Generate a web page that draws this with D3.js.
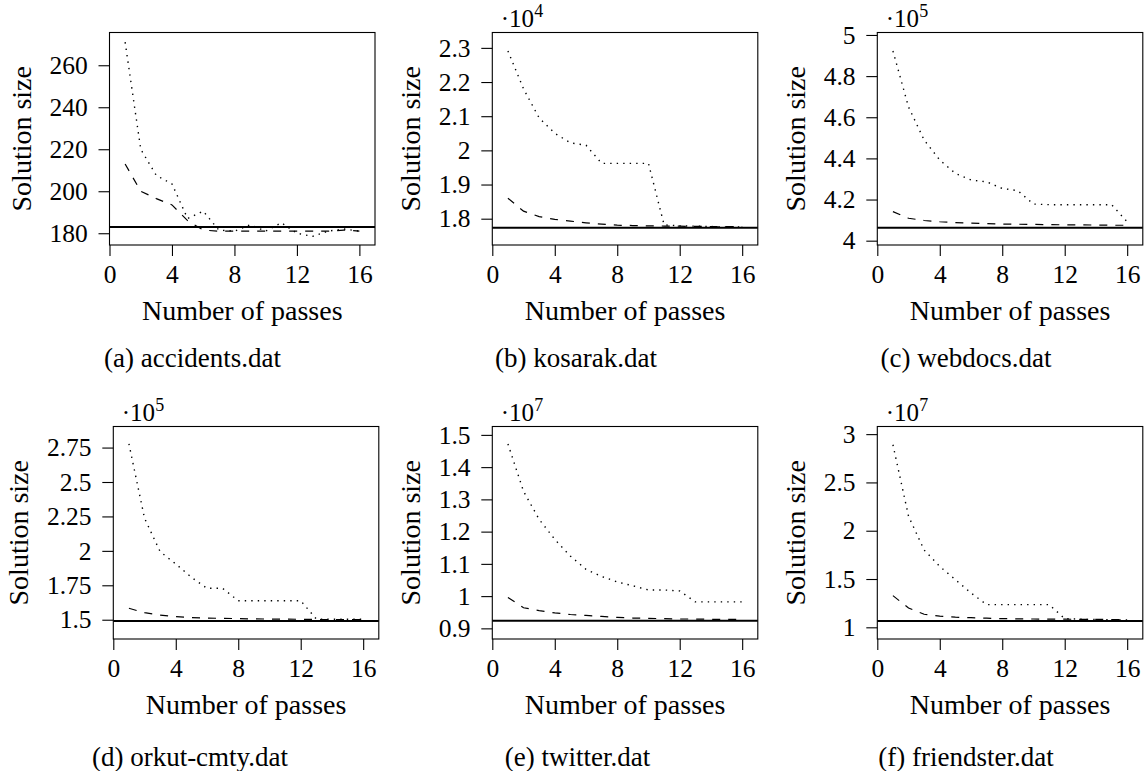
<!DOCTYPE html>
<html lang="en">
<head>
<meta charset="UTF-8">
<title>Solution size vs number of passes</title>
<script src="https://d3js.org/d3.v7.min.js"></script>
<style>
  body { margin: 0; background: #fff; }
</style>
</head>
<body>
<svg id="chart" width="1148" height="771"></svg>
<script>
// Shared x values and ticks
const passes = [1, 2, 3, 4, 5, 6, 7, 8, 9, 10, 11, 12, 13, 14, 15, 16];
const xTicks = [0, 4, 8, 12, 16];

// (a) accidents.dat
const accidentsDotted = [271, 220, 207.5, 203.5, 187, 190.5, 181.5, 181, 184, 181, 185, 180, 178.5, 181, 182, 181];
const accidentsDashed = [213, 200, 196.5, 193.5, 186, 181.5, 181, 181, 181, 181, 181, 181, 181, 181, 181.5, 181];
const accidentsOptimum = 183;
const accidentsTicks = [180, 200, 220, 240, 260];
const accidentsTickLabels = ["180", "200", "220", "240", "260"];

// (b) kosarak.dat
const kosarakDotted = [22910, 21800, 20950, 20500, 20220, 20150, 19620, 19620, 19620, 19620, 17820, 17790, 17780, 17770, 17760, 17760];
const kosarakDashed = [18600, 18220, 18060, 17980, 17930, 17880, 17840, 17810, 17800, 17790, 17785, 17780, 17775, 17770, 17770, 17765];
const kosarakOptimum = 17737;
const kosarakTicks = [18000, 19000, 20000, 21000, 22000, 23000];
const kosarakTickLabels = ["1.8", "1.9", "2", "2.1", "2.2", "2.3"];

// (c) webdocs.dat
const webdocsDotted = [492200, 465000, 448900, 439200, 432700, 429500, 428600, 425400, 424300, 417800, 417500, 417500, 417500, 417500, 417500, 409200];
const webdocsDashed = [414100, 410900, 409800, 409200, 408800, 408500, 408300, 408100, 408000, 407900, 407800, 407700, 407700, 407600, 407500, 407500];
const webdocsOptimum = 406300;
const webdocsTicks = [400000, 420000, 440000, 460000, 480000, 500000];
const webdocsTickLabels = ["4", "4.2", "4.4", "4.6", "4.8", "5"];

// (d) orkut-cmty.dat
const orkutDotted = [277700, 223700, 199400, 190500, 180800, 172800, 172800, 163800, 163800, 163800, 163800, 163800, 150500, 150300, 150300, 150300];
const orkutDashed = [158300, 155100, 153400, 152200, 151500, 151200, 151000, 150800, 150600, 150500, 150400, 150300, 150200, 150100, 150000, 150000];
const orkutOptimum = 149100;
const orkutTicks = [150000, 175000, 200000, 225000, 250000, 275000];
const orkutTickLabels = ["1.5", "1.75", "2", "2.25", "2.5", "2.75"];

// (e) twitter.dat
const twitterDotted = [14720000, 13250000, 12380000, 11760000, 11240000, 10830000, 10610000, 10440000, 10320000, 10190000, 10190000, 10160000, 9820000, 9820000, 9820000, 9820000];
const twitterDashed = [9960000, 9640000, 9550000, 9480000, 9430000, 9400000, 9370000, 9340000, 9320000, 9310000, 9300000, 9290000, 9290000, 9280000, 9280000, 9280000];
const twitterOptimum = 9238000;
const twitterTicks = [9000000, 10000000, 11000000, 12000000, 13000000, 14000000, 15000000];
const twitterTickLabels = ["0.9", "1", "1.1", "1.2", "1.3", "1.4", "1.5"];

// (f) friendster.dat
const friendsterDotted = [28900000, 21500000, 18000000, 16300000, 14930000, 13560000, 12350000, 12350000, 12350000, 12350000, 12350000, 10900000, 10850000, 10800000, 10800000, 10750000];
const friendsterDashed = [13280000, 12000000, 11350000, 11150000, 11050000, 11000000, 10950000, 10900000, 10880000, 10860000, 10850000, 10840000, 10830000, 10820000, 10810000, 10800000];
const friendsterOptimum = 10650000;
const friendsterTicks = [10000000, 15000000, 20000000, 25000000, 30000000];
const friendsterTickLabels = ["1", "1.5", "2", "2.5", "3"];

const FONT = '"Liberation Serif"';

// panel layout
const W = 265.5, H = 212.5;
const panels = [
  { caption: "(a) accidents.dat", dotted: accidentsDotted, dashed: accidentsDashed, opt: accidentsOptimum,
    ticks: accidentsTicks, labels: accidentsTickLabels, exp: null, yDomain: [174.4, 275.6],
    left: 109.5, top: 32.5, cx: 192.5 },
  { caption: "(b) kosarak.dat", dotted: kosarakDotted, dashed: kosarakDashed, opt: kosarakOptimum,
    ticks: kosarakTicks, labels: kosarakTickLabels, exp: "4", yDomain: [17230, 23450],
    left: 492.3, top: 32.5, cx: 576 },
  { caption: "(c) webdocs.dat", dotted: webdocsDotted, dashed: webdocsDashed, opt: webdocsOptimum,
    ticks: webdocsTicks, labels: webdocsTickLabels, exp: "5", yDomain: [397900, 501200],
    left: 877.3, top: 32.5, cx: 966 },
  { caption: "(d) orkut-cmty.dat", dotted: orkutDotted, dashed: orkutDashed, opt: orkutOptimum,
    ticks: orkutTicks, labels: orkutTickLabels, exp: "5", yDomain: [136000, 290300],
    left: 113.3, top: 426.5, cx: 190 },
  { caption: "(e) twitter.dat", dotted: twitterDotted, dashed: twitterDashed, opt: twitterOptimum,
    ticks: twitterTicks, labels: twitterTickLabels, exp: "7", yDomain: [8670000, 15260000],
    left: 492.3, top: 426.5, cx: 577.5 },
  { caption: "(f) friendster.dat", dotted: friendsterDotted, dashed: friendsterDashed, opt: friendsterOptimum,
    ticks: friendsterTicks, labels: friendsterTickLabels, exp: "7", yDomain: [8790000, 30790000],
    left: 877.3, top: 426.5, cx: 966 }
];

const svg = d3.select("#chart");

panels.forEach(p => {
  const g = svg.append("g");
  const x = d3.scaleLinear().domain([0, 17]).range([p.left, p.left + W]);
  const y = d3.scaleLinear().domain(p.yDomain).range([p.top + H, p.top]);
  const bottom = p.top + H;

  // y axis
  const yAxis = g.append("g")
    .attr("transform", `translate(${p.left},0)`)
    .call(d3.axisLeft(y).tickValues(p.ticks).tickFormat((d, i) => p.labels[i])
      .tickSizeInner(11).tickSizeOuter(0).tickPadding(10.7));
  yAxis.attr("font-family", null).attr("font-size", null);
  yAxis.select(".domain").remove();
  yAxis.selectAll(".tick line").attr("stroke", "#000").attr("stroke-width", 1.1);
  yAxis.selectAll(".tick text").attr("fill", "#000")
    .style("font-family", FONT).style("font-size", "25.5px");

  // x axis
  const xAxis = g.append("g")
    .attr("transform", `translate(0,${bottom})`)
    .call(d3.axisBottom(x).tickValues(xTicks).tickSizeInner(11).tickSizeOuter(0).tickPadding(9));
  xAxis.attr("font-family", null).attr("font-size", null);
  xAxis.select(".domain").remove();
  xAxis.selectAll(".tick line").attr("stroke", "#000").attr("stroke-width", 1.1);
  xAxis.selectAll(".tick text").attr("fill", "#000")
    .style("font-family", FONT).style("font-size", "25.5px");

  // line series
  const line = d3.line().x((d, i) => x(passes[i])).y(d => y(d));
  g.append("line")
    .attr("x1", x(0)).attr("x2", x(17))
    .attr("y1", y(p.opt)).attr("y2", y(p.opt))
    .attr("stroke", "#000").attr("stroke-width", 2);
  g.append("path").datum(p.dashed)
    .attr("d", line).attr("fill", "none").attr("stroke", "#000")
    .attr("stroke-width", 1.2).attr("stroke-dasharray", "8 8");
  g.append("path").datum(p.dotted)
    .attr("d", line).attr("fill", "none").attr("stroke", "#000")
    .attr("stroke-width", 1.4).attr("stroke-dasharray", "1.4 5.1");

  // frame
  g.append("rect")
    .attr("x", p.left).attr("y", p.top).attr("width", W).attr("height", H)
    .attr("fill", "none").attr("stroke", "#000").attr("stroke-width", 1.1);

  // y label, placed next to the widest tick label
  let maxW = 0;
  yAxis.selectAll(".tick text").each(function() {
    maxW = Math.max(maxW, this.getComputedTextLength());
  });
  const lx = p.left - 21.7 - maxW - 19;
  g.append("text")
    .attr("transform", `translate(${lx},${p.top + H / 2}) rotate(-90)`)
    .attr("text-anchor", "middle")
    .style("font-family", FONT).style("font-size", "28px")
    .text("Solution size");

  // x label
  g.append("text")
    .attr("x", p.left + W / 2).attr("y", bottom + 75)
    .attr("text-anchor", "middle")
    .style("font-family", FONT).style("font-size", "28px")
    .text("Number of passes");

  // caption
  g.append("text")
    .attr("x", p.cx).attr("y", bottom + (p.top < 100 ? 121.7 : 126.5))
    .attr("text-anchor", "middle")
    .style("font-family", FONT).style("font-size", "27px")
    .text(p.caption);

  // scale exponent
  if (p.exp) {
    const t = g.append("text")
      .attr("x", p.left + 8.5).attr("y", p.top - 6)
      .style("font-family", FONT).style("font-size", "25px");
    t.append("tspan").text("\u00B710");
    t.append("tspan").attr("dy", -10).style("font-size", "18px").text(p.exp);
  }
});
</script>
</body>
</html>
